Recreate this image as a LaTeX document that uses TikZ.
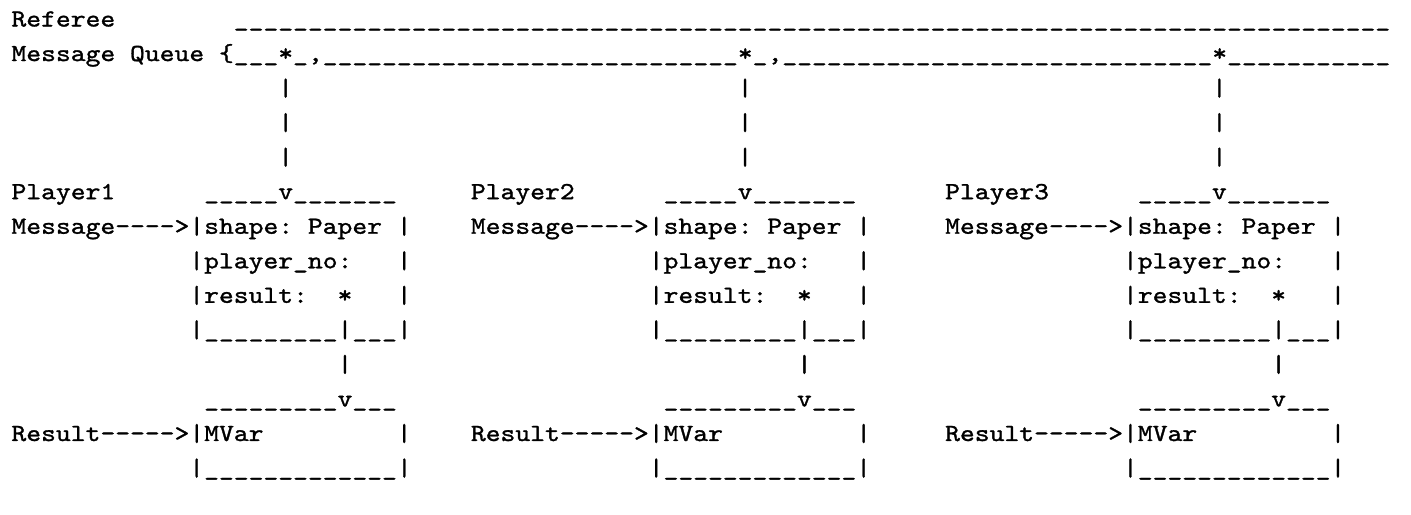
\documentclass[tikz,border=0pt]{standalone}
\usepackage{fontspec}
\newfontfamily\ascfont{lmmono10-regular.otf}[Ligatures=TeXOff,FakeStretch=1.15,FakeBold=1.2]
\ExplSyntaxOn
\NewDocumentCommand\usr{m}{\prg_replicate:nn{#1}{\textunderscore}}
\ExplSyntaxOff
\newcommand\asctxt[4]{\node[asc] (#1) at ({11.5+(#3)*14.82},{26.5+(#2)*34.54}) {#4};}
\begin{document}
\begin{tikzpicture}[x=0.36pt,y=-0.36pt,
  asc/.style={font=\ascfont\fontsize{8.84}{10}\selectfont\frenchspacing,
    anchor=base west, inner sep=0pt, outer sep=0pt, text=black}]
\useasboundingbox (0,0) rectangle (1411,514);
% referee message queue
\asctxt{referee}{0}{0}{Referee}
\asctxt{refline}{0}{15}{\usr{78}}
\asctxt{mq}{1}{0}{Message}
\asctxt{queue}{1}{8}{Queue}
\asctxt{qline}{1}{14}{\{\usr{3}*\textunderscore,\usr{28}*\textunderscore,\usr{29}*\usr{11}}
\foreach \c/\k in {18/1,49/2,81/3}{
  \foreach \r in {2,3,4}{\asctxt{bar\k-\r}{\r}{\c}{|}}
}
% players
\foreach \o/\k in {0/1,31/2,63/3}{
  \asctxt{player\k}{5}{\o}{Player\k}
  \asctxt{top\k}{5}{\o+13}{\usr{5}v\usr{7}}
  \asctxt{msg\k}{6}{\o}{Message---->|shape:}
  \asctxt{paper\k}{6}{\o+20}{Paper}
  \asctxt{rsix\k}{6}{\o+26}{|}
  \asctxt{pno\k}{7}{\o+12}{|player\textunderscore no:}
  \asctxt{rseven\k}{7}{\o+26}{|}
  \asctxt{res\k}{8}{\o+12}{|result:}
  \asctxt{star\k}{8}{\o+22}{*}
  \asctxt{reight\k}{8}{\o+26}{|}
  \asctxt{bot\k}{9}{\o+12}{|\usr{9}|\usr{3}|}
  \asctxt{link\k}{10}{\o+22}{|}
  \asctxt{mtop\k}{11}{\o+13}{\usr{9}v\usr{3}}
  \asctxt{result\k}{12}{\o}{Result----->|MVar}
  \asctxt{rtwelve\k}{12}{\o+26}{|}
  \asctxt{mbot\k}{13}{\o+12}{|\usr{13}|}
}
\end{tikzpicture}
\end{document}
